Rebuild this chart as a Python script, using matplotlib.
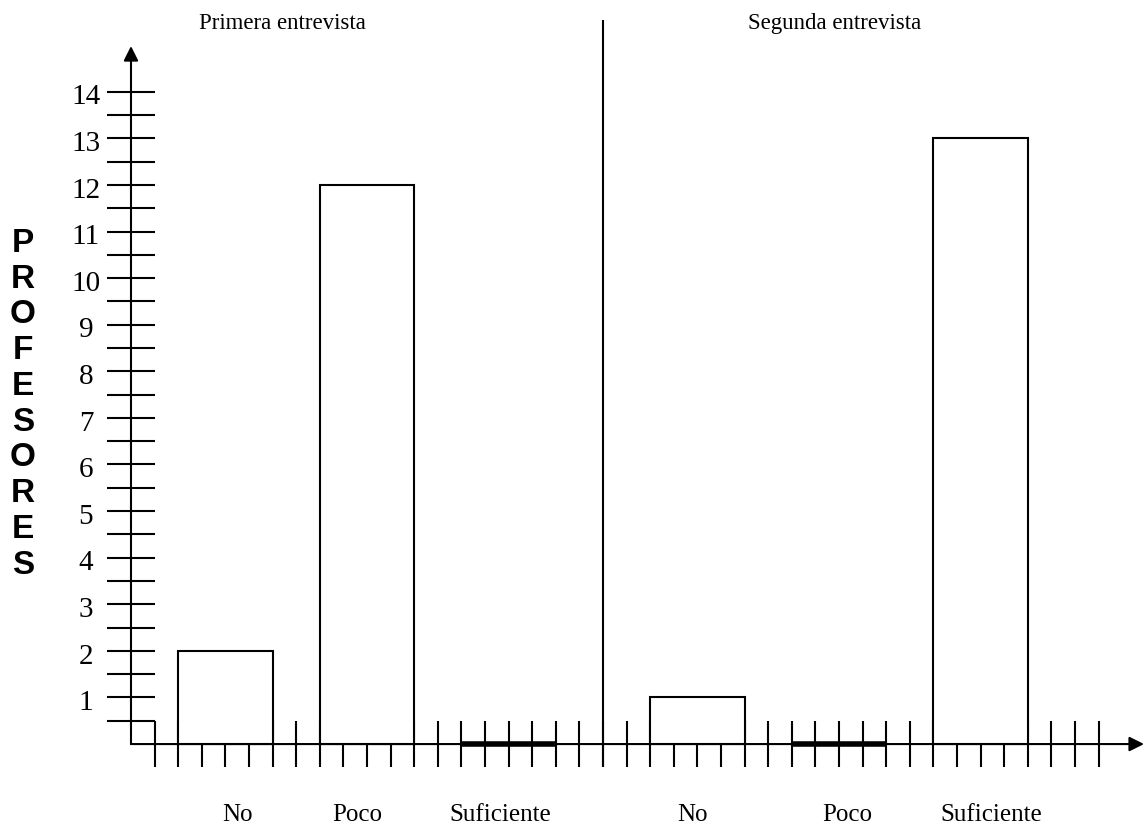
import matplotlib
matplotlib.use("Agg")
from matplotlib import pyplot as plt

categories = ["No", "Poco", "Suficiente"]
primera = [2, 12, 0]
segunda = [1, 0, 13]
titles = ["Primera entrevista", "Segunda entrevista"]
y_ticks = [i * 0.5 for i in range(1, 29)]
y_labels = [i for i in range(1, 15)]
ylabel = "PROFESORES"

serif = "Liberation Serif"
lw = 1.5

fig = plt.figure(figsize=(11.44, 8.28), dpi=100)
ax = fig.add_axes([0, 0, 1, 1])
ax.set_xlim(-5.55, 42.92)
ax.set_ylim(-1.78, 15.99)
ax.axis("off")

# ticks along x (every unit), hidden inside bars by white fill
x_ticks = list(range(1, 42))
ax.vlines(x_ticks, -0.5, 0.5, color="black", lw=lw, zorder=1)

# bars
group_start = [0, 20]
label_pos = [[4.5, 9.6, 15.65], [23.8, 30.35, 36.45]]
for g, values in enumerate([primera, segunda]):
    lefts = [group_start[g] + 2 + 6 * i for i in range(len(values))]
    ax.bar(lefts, values, width=4, align="edge", color="white",
           edgecolor="black", linewidth=lw, zorder=2)
    for left, v in zip(lefts, values):
        if v == 0:
            ax.hlines(0, left, left + 4, color="black", lw=4, zorder=4)
    for cat, xp in zip(categories, label_pos[g]):
        ax.text(xp, -1.5, cat, ha="center", va="center", fontsize=18,
                family=serif)

# divider between interviews
ax.vlines(20, -0.5, 15.55, color="black", lw=lw, zorder=3)

# titles
ax.text(6.42, 15.49, titles[0], ha="center", va="center", fontsize=16.5, family=serif)
ax.text(29.8, 15.49, titles[1], ha="center", va="center", fontsize=16.5, family=serif)

# y ticks and labels
ax.hlines(y_ticks, -1, 1, color="black", lw=lw, zorder=3)
for v in y_labels:
    ax.text(-1.91, v - 0.1, str(v), ha="center", va="center", fontsize=21, family=serif)

# axes with arrows
ax.annotate("", xy=(42.92, 0), xytext=(0, 0),
            arrowprops=dict(arrowstyle="-|>", lw=lw, color="black",
                            mutation_scale=22, shrinkA=0, shrinkB=0), zorder=5)
ax.annotate("", xy=(0, 14.98), xytext=(0, 0),
            arrowprops=dict(arrowstyle="-|>", lw=lw, color="black",
                            mutation_scale=22, shrinkA=0, shrinkB=0), zorder=5)

# stacked vertical label
for i, ch in enumerate(ylabel):
    ax.text(-4.58, 10.77 - i * 0.768, ch, ha="center", va="center",
            fontsize=24, fontweight="bold", family="Liberation Sans")

fig.savefig("out.png", dpi=100)
